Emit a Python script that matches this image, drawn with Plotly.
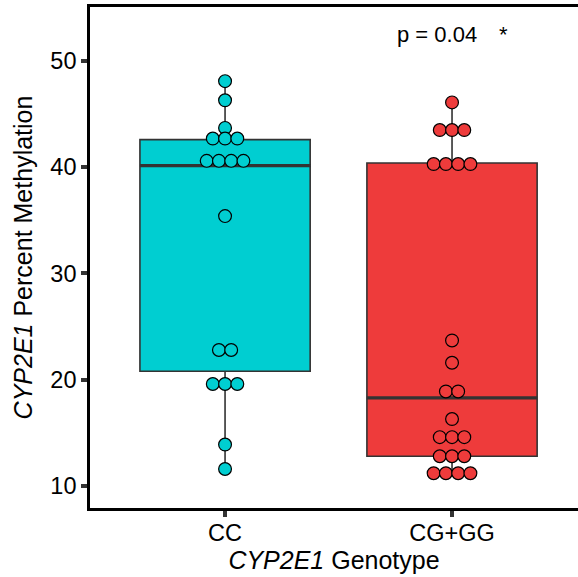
import plotly.graph_objects as go
import numpy as np

categories = ["CC", "CG+GG"]
colors = ["#00CED1", "#EE3B3B"]

cc_values = [48.1, 46.3, 43.7, 42.7, 42.7, 42.7, 40.6, 40.6, 40.6, 40.6,
             35.4, 22.8, 22.8, 19.6, 19.6, 19.6, 13.9, 11.6]
cg_values = [46.1, 43.5, 43.5, 43.5, 40.3, 40.3, 40.3, 40.3, 23.7, 21.6,
             18.9, 18.9, 16.3, 14.6, 14.6, 14.6, 12.8, 12.8, 12.8,
             11.2, 11.2, 11.2, 11.2]

q1 = [20.8, 12.8]
median = [40.15, 18.3]
q3 = [42.6, 40.4]
lowerfence = [11.6, 11.2]
upperfence = [48.1, 46.1]

p_label = "p = 0.04"
sig_label = "*"

groups = [cc_values, cg_values]
box_width = 0.75
dot_step = 0.054

fig = go.Figure()

for i, (cat, col) in enumerate(zip(categories, colors)):
    fig.add_trace(go.Box(
        x=[i], q1=[q1[i]], median=[median[i]], q3=[q3[i]],
        lowerfence=[lowerfence[i]], upperfence=[upperfence[i]],
        width=box_width, fillcolor=col,
        line=dict(color="#333333", width=1.6),
        whiskerwidth=0, boxpoints=False, showlegend=False, hoverinfo="skip",
    ))
    # thick median line
    fig.add_trace(go.Scatter(
        x=[i - box_width / 2, i + box_width / 2], y=[median[i], median[i]],
        mode="lines", line=dict(color="#333333", width=3.2),
        showlegend=False, hoverinfo="skip",
    ))

for i, (vals, col) in enumerate(zip(groups, colors)):
    xs, ys = [], []
    uniq = sorted(set(vals), reverse=True)
    for u in uniq:
        n = vals.count(u)
        for k in range(n):
            xs.append(i + (k - (n - 1) / 2) * dot_step)
            ys.append(u)
    fig.add_trace(go.Scatter(
        x=xs, y=ys, mode="markers",
        marker=dict(size=12.8, color=col, line=dict(color="black", width=1.2)),
        showlegend=False, hoverinfo="skip",
    ))

fig.add_annotation(x=0.935, y=52.45, text=p_label, showarrow=False,
                   font=dict(size=22, color="black"), xanchor="center", yanchor="middle")
fig.add_annotation(x=1.225, y=52.45, text=sig_label, showarrow=False,
                   font=dict(size=22, color="black"), xanchor="center", yanchor="middle")

font_family = "Liberation Sans, Arial, Helvetica, sans-serif"

fig.update_layout(
    width=578, height=577,
    margin=dict(l=90, r=0, t=7, b=69),
    paper_bgcolor="white", plot_bgcolor="white",
    font=dict(family=font_family, size=23.5, color="black"),
    xaxis=dict(
        range=[-0.595, 1.555], tickvals=[0, 1], ticktext=categories,
        showgrid=False, zeroline=False,
        showline=True, linecolor="black", linewidth=2.6, mirror=True,
        ticks="outside", ticklen=6, tickwidth=3.5, tickcolor="#333333",
        tickfont=dict(size=23.5, color="black"), ticklabelstandoff=-4,
        title=dict(text="<i>CYP2E1</i> Genotype", font=dict(size=25), standoff=6),
    ),
    yaxis=dict(
        range=[7.93, 55.08], tickvals=[10, 20, 30, 40, 50],
        showgrid=False, zeroline=False,
        showline=True, linecolor="black", linewidth=2.6,
        ticks="outside", ticklen=6, tickwidth=3.5, tickcolor="#333333",
        tickfont=dict(size=23.5, color="black"),
        title=dict(text="<i>CYP2E1</i> Percent Methylation", font=dict(size=25), standoff=11),
    ),
)

fig.write_html("out.html", config={"displayModeBar": False},
               post_script="document.body.style.margin='0';")
